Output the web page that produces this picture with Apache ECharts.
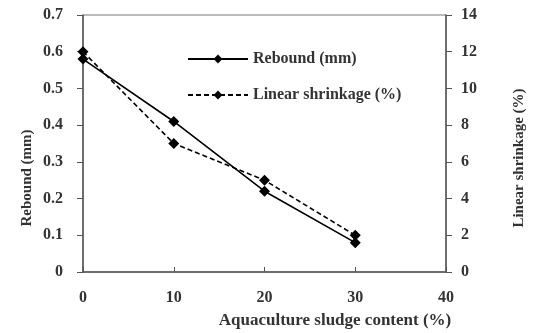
<!DOCTYPE html>
<html><head><meta charset="utf-8">
<script src="https://cdn.jsdelivr.net/npm/echarts@6/dist/echarts.min.js"></script>
<style>html,body{margin:0;padding:0;background:#fff}#c{width:536px;height:333px}</style>
</head><body><div id="c"></div>
<script>
const categories = [0, 10, 20, 30];
const rebound = [0.58, 0.41, 0.22, 0.08];
const shrinkage = [12, 7, 5, 2];
const xTicks = [0, 10, 20, 30, 40];
const leftTicks = [0, 0.1, 0.2, 0.3, 0.4, 0.5, 0.6, 0.7];
const rightTicks = [0, 2, 4, 6, 8, 10, 12, 14];

const font = 'Liberation Serif';
const lbl = {color:'#333', fontFamily:font, fontSize:16, fontWeight:'bold'};
const axisLine = {show:true, lineStyle:{color:'#555', width:1.5}};
const chart = echarts.init(document.getElementById('c'));
chart.setOption({
  animation:false,
  backgroundColor:'#fff',
  grid:{left:83, right:90, top:15, bottom:61, show:true, borderColor:'#777', borderWidth:1},
  legend:{
    orient:'vertical', left:182, top:46, itemGap:20, itemWidth:60, itemHeight:11,
    textStyle:{color:'#333', fontFamily:font, fontSize:16, fontWeight:'bold'},
    data:['Rebound (mm)','Linear shrinkage (%)']
  },
  xAxis:{
    type:'value', min:xTicks[0], max:xTicks[xTicks.length-1], interval:10,
    axisLine:axisLine, axisTick:{show:true, inside:true, length:5, lineStyle:{color:'#555'}},
    axisLabel:Object.assign({margin:18}, lbl), splitLine:{show:false}
  },
  yAxis:[{
    type:'value', min:leftTicks[0], max:leftTicks[leftTicks.length-1], interval:0.1,
    axisLine:axisLine, axisTick:{show:true, length:6, lineStyle:{color:'#555'}},
    axisLabel:Object.assign({margin:20, formatter:v=>v===0?'0':v.toFixed(1)}, lbl),
    splitLine:{show:false}
  },{
    type:'value', position:'right', min:rightTicks[0], max:rightTicks[rightTicks.length-1], interval:2,
    axisLine:axisLine, axisTick:{show:true, length:6, lineStyle:{color:'#555'}},
    axisLabel:Object.assign({margin:15}, lbl), splitLine:{show:false}
  }],
  graphic:[
    {type:'text', x:27, y:178, rotation:Math.PI/2, style:{text:'Rebound (mm)', fill:'#333', font:'bold 15px "Liberation Serif"', align:'center', verticalAlign:'middle'}},
    {type:'text', x:519, y:158, rotation:Math.PI/2, style:{text:'Linear shrinkage (%)', fill:'#333', font:'bold 15px "Liberation Serif"', align:'center', verticalAlign:'middle'}},
    {type:'text', x:335, y:321, style:{text:'Aquaculture sludge content (%)', fill:'#333', font:'bold 17px "Liberation Serif"', align:'center', verticalAlign:'middle'}}
  ],
  series:[{
    name:'Rebound (mm)', type:'line', yAxisIndex:0,
    data:categories.map((x,i)=>[x,rebound[i]]),
    symbol:'diamond', symbolSize:11, color:'#000',
    lineStyle:{color:'#000', width:1.6}, itemStyle:{color:'#000'}
  },{
    name:'Linear shrinkage (%)', type:'line', yAxisIndex:1,
    data:categories.map((x,i)=>[x,shrinkage[i]]),
    symbol:'diamond', symbolSize:11, color:'#000',
    lineStyle:{color:'#000', width:1.6, type:[5,3]}, itemStyle:{color:'#000'}
  }]
});
</script></body></html>
